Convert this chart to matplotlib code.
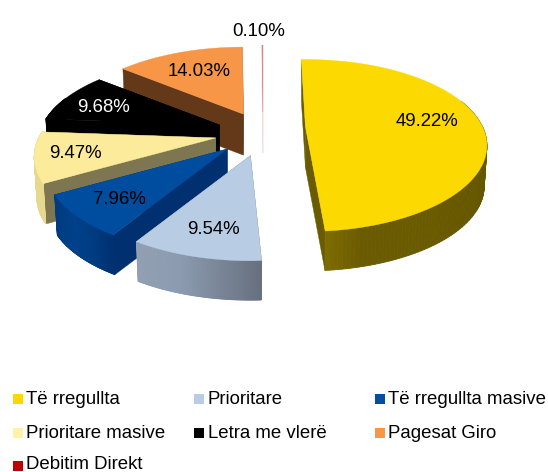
import numpy as np
import matplotlib
matplotlib.use('Agg')
import matplotlib.pyplot as plt
from matplotlib.colors import LinearSegmentedColormap

plt.rcParams['font.family'] = ['Liberation Sans', 'DejaVu Sans']

# Data
categories = ['Të rregullta', 'Prioritare', 'Të rregullta masive', 'Prioritare masive',
              'Letra me vlerë', 'Pagesat Giro', 'Debitim Direkt']
values = [49.22, 9.54, 7.96, 9.47, 9.68, 14.03, 0.10]

top_colors = ['#FCD900', '#B8CCE4', '#004C9E', '#FBEB9A', '#000000', '#F79646', '#D08080']
legend_colors = ['#FFD700', '#B8CCE4', '#004EA2', '#FFF2A8', '#000000', '#F79646', '#C00000']
radial_colors = ['#6B5B00', '#6A7480', '#003070', '#7D7650', '#000000', '#64391A', '#F0D8D8']
# left to right along the arc
wall_colors = [['#8A7800', '#6B5B00', '#6B5B00', '#655600'],
               ['#929FB2', '#8C9CB0', '#7A8698', '#66707E'],
               ['#003B80', '#00418A', '#003B80', '#003070'],
               ['#E6D88C', '#E6D88C', '#E6D88C', '#E6D88C'],
               ['#000000', '#000000', '#000000', '#000000'],
               ['#64391A', '#64391A', '#64391A', '#64391A'],
               ['#F0D8D8', '#F0D8D8', '#F0D8D8', '#F0D8D8']]
label_colors = ['black', 'black', 'black', 'black', 'white', 'black', 'black']
label_pos = [(427, 122), (213, 229), (119, 199), (75, 153), (103, 107), (199, 71), (259, 31)]

# Pie geometry, in pixels of the picture
start_angle = 90
cx, cy = 263, 133
a, b, p = 177, 81.8, 0.221
explode = [0.24, 0.27, 0.27, 0.27, 0.27, 0.27, 0.27]
depth = 41
shrink = 0.985
# the big slice sits a little off the others in the original
nudge_start = [1.6, 0, 0, 0, 0, 0, 0]
nudge_end = [2.2, 0, 0, 0, 0, 0, 0]
nudge_y = [-6, 0, 0, 0, 0, 0, 0]

def project(x, y):
    s = 1 / (1 + p * y)
    return a * x * s, -b * y * s

fig = plt.figure(figsize=(5.48, 4.72), dpi=100)
ax = fig.add_axes([0, 0, 1, 1])
ax.set_xlim(0, 548)
ax.set_ylim(472, 0)
ax.axis('off')

# Angles, clockwise from the start
fracs = np.array(values) / sum(values) * 360
ends = start_angle - np.cumsum(fracs)
starts = ends + fracs

# Back to front
for i in [6, 5, 4, 3, 2, 1, 0]:
    t = np.radians(np.linspace(starts[i] + nudge_start[i], ends[i] + nudge_end[i], 160))
    mid = np.radians((starts[i] + ends[i]) / 2)
    ox, oy = project(explode[i] * np.cos(mid), explode[i] * np.sin(mid))
    ox, oy = ox + cx, oy + cy + nudge_y[i]
    u, v = project(np.cos(t), np.sin(t))
    top_x, top_y = ox + u, oy + v
    low_x, low_y = ox + u * shrink, oy + v * shrink + depth

    # radial walls
    for j in [0, -1]:
        ax.fill([ox, top_x[j], low_x[j], ox], [oy, top_y[j], low_y[j], oy + depth],
                color=radial_colors[i], lw=0.3, zorder=i * -10)

    # outer wall with a gradient along the arc
    cmap = LinearSegmentedColormap.from_list('wall', wall_colors[i])
    for k in range(len(t) - 1):
        if np.sin(t[k]) < 0.35:
            frac = (low_x[k] - low_x.min()) / max(np.ptp(low_x), 1)
            ax.fill([top_x[k], top_x[k + 1], low_x[k + 1], low_x[k]],
                    [top_y[k], top_y[k + 1], low_y[k + 1], low_y[k]],
                    color=cmap(frac), lw=0.6, zorder=i * -10 + 1)

    # top face
    ax.fill(np.r_[ox, top_x], np.r_[oy, top_y], color=top_colors[i], lw=0.3, zorder=i * -10 + 2)

for i in range(len(values)):
    ax.text(label_pos[i][0], label_pos[i][1], '%.2f%%' % values[i], color=label_colors[i],
            fontsize=13.4, ha='center', va='center', zorder=5)

# Legend
col_x = [13, 194, 375]
row_y = [399, 433, 464.5]
for i in range(len(categories)):
    x = col_x[i % 3]
    y = row_y[i // 3]
    ax.plot([x + 5], [y + (1.5 if i == 6 else 0)], marker='s', ms=7.2, mew=0, color=legend_colors[i], ls='none', zorder=5)
    ax.text(x + 13.5, y, categories[i], fontsize=13.4, ha='left', va='center', color='black', zorder=5)

plt.savefig('out.png', dpi=100)
